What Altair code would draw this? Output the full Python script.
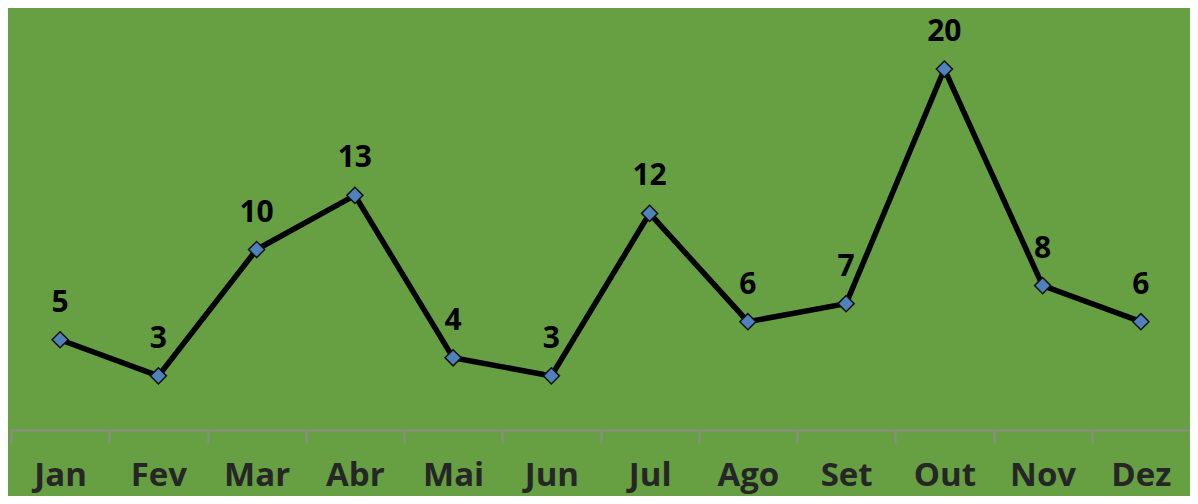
import altair as alt
import pandas as pd

months = ["Jan", "Fev", "Mar", "Abr", "Mai", "Jun", "Jul", "Ago", "Set", "Out", "Nov", "Dez"]
values = [5, 3, 10, 13, 4, 3, 12, 6, 7, 20, 8, 6]

df = pd.DataFrame({"mes": months, "valor": values})

x_enc = alt.X(
    "mes:N",
    sort=months,
    scale=alt.Scale(type="band", paddingInner=0, paddingOuter=0),
    axis=alt.Axis(
        title=None,
        labelAngle=0,
        labelFont="Open Sans",
        labelFontSize=33,
        labelFontWeight="bold",
        labelColor="#262626",
        labelBaseline="alphabetic",
        labelPadding=42,
        tickSize=13,
        tickWidth=2,
        tickColor="#8C8C8C",
        tickBand="extent",
        domainColor="#8C8C8C",
        domainWidth=2,
        grid=False,
    ),
)
y_enc = alt.Y(
    "valor:Q",
    scale=alt.Scale(domain=[0, 23.38], nice=False, zero=True),
    axis=None,
)

base = alt.Chart(df).encode(x=x_enc, y=y_enc)

line = base.mark_line(color="black", strokeWidth=5.5)
points = base.mark_point(
    shape="diamond", filled=True, size=260, fill="#4F81BD", stroke="#111111", strokeWidth=1.5, opacity=1
)
labels = base.mark_text(
    font="Open Sans", fontSize=30, fontWeight="bold", color="black",
    baseline="alphabetic", align="center", dy=-28
).encode(text="valor:Q")

chart = (
    alt.layer(line, points, labels)
    .properties(
        width=1179,
        height=422,
        autosize=alt.AutoSizeParams(type="none"),
        padding={"left": 3, "top": 0, "right": 0, "bottom": 66},
        background="#66A042",
    )
    .configure_view(strokeWidth=0)
)

chart.save("out.html", embed_options={"renderer": "svg", "actions": False})
